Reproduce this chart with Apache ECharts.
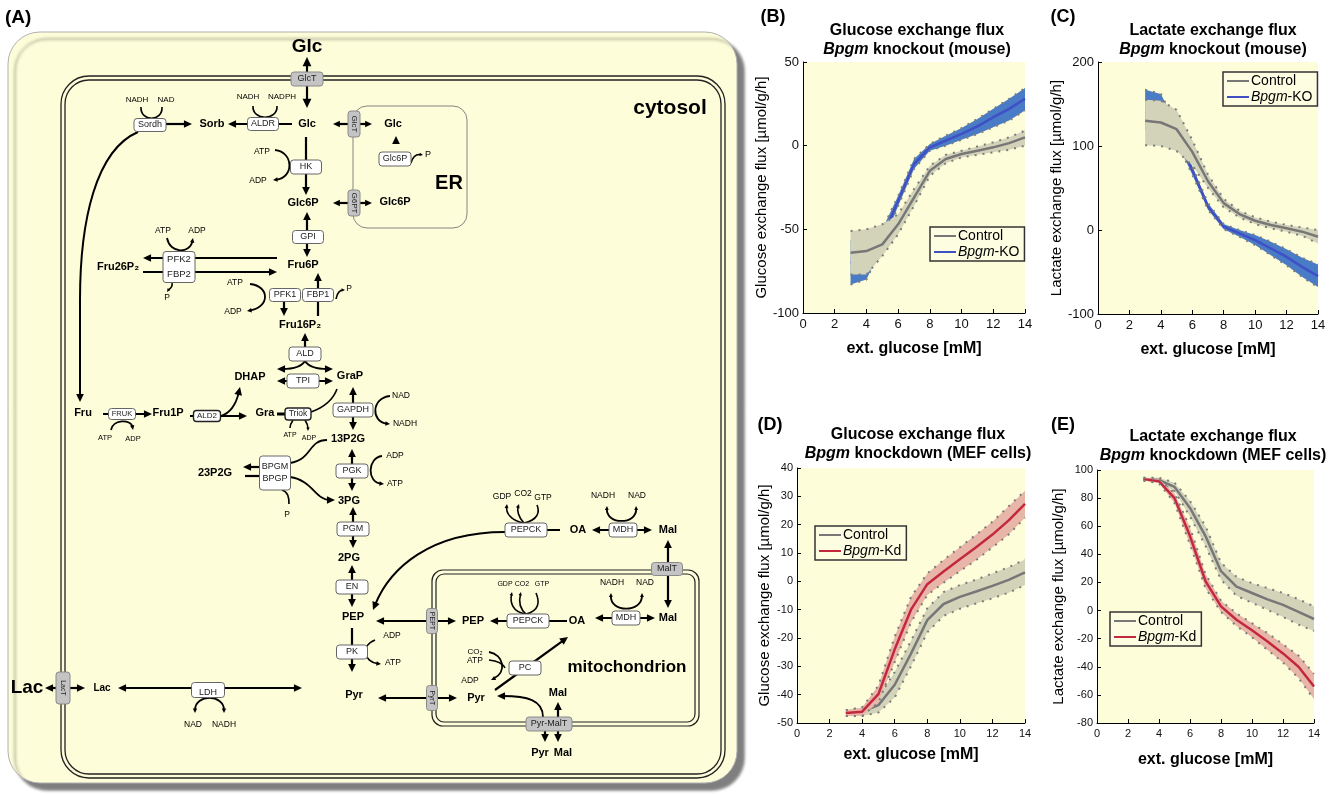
<!DOCTYPE html>
<html><head><meta charset="utf-8">
<script src="https://cdn.jsdelivr.net/npm/echarts/dist/echarts.min.js"></script>
<style>html,body{margin:0;padding:0;background:#fff}#c{width:1340px;height:794px}</style>
</head><body><div id="c"></div>
<script>
// ---------------- data ----------------
const glucoseMM = [3,4,5,6,7,8,9,10,11,12,13,14];
const xTicks = [0,2,4,6,8,10,12,14];
// (B) Glucose exchange flux, Bpgm knockout (mouse)
const glcKO_ctrl_mean = [-64,-63,-59,-47,-31,-15,-8,-5,-3,-1,1.5,5];
const glcKO_ctrl_lo   = [-77,-77,-66,-53,-36,-18,-10.5,-7,-5.5,-4,-2.5,0];
const glcKO_ctrl_hi   = [-51,-50,-47,-41,-26,-12,-5.5,-3,-0.5,2,5,9];
const glcKO_ko_mean   = [-70,-68,-55,-33,-11,-1,3,7,11.5,17,22,28];
const glcKO_ko_lo     = [-83,-80,-60,-36,-14,-3,0,3.5,7,11,15,21];
const glcKO_ko_hi     = [-57,-56,-50,-30,-8,1,6,10.5,16,22,28,34.5];
// (C) Lactate exchange flux, Bpgm knockout (mouse)
const lacKO_ctrl_mean = [130,128,120,93,58,32,19,11,6,2,-2,-8];
const lacKO_ctrl_lo   = [101,100,94,77,50,27,15,7,2,-2,-7,-16];
const lacKO_ctrl_hi   = [155,154,143,107,66,37,23,15,10,6,3,0];
const lacKO_ko_mean   = [140,138,115,71,28,4,-4,-12,-22,-32,-44,-55];
const lacKO_ko_lo     = [120,118,105,66,24,1,-8,-18,-30,-42,-56,-68];
const lacKO_ko_hi     = [167,162,125,76,32,7,0,-6,-14,-23,-33,-41];
// (D) Glucose exchange flux, Bpgm knockdown (MEF cells)
const glcKd_ctrl_mean = [-46.5,-46,-43.7,-36.5,-25.5,-13.7,-8,-5.5,-3.6,-1.6,0.5,3.2];
const glcKd_ctrl_lo   = [-47.5,-47.5,-46.3,-41,-30,-18,-12.2,-9.7,-7.8,-6,-4,-1.3];
const glcKd_ctrl_hi   = [-45.5,-44.5,-41,-32,-21,-9.5,-3.8,-1.3,0.6,2.8,5,7.7];
const glcKd_kd_mean   = [-46.5,-46,-39.8,-24,-10,-1,3.5,7.8,12,16.5,21.5,27.3];
const glcKd_kd_lo     = [-47.5,-47.5,-42.8,-28.5,-14.5,-4.8,-0.5,3.6,7.5,12,16.5,22.5];
const glcKd_kd_hi     = [-45.5,-44.5,-36.8,-19.5,-5.5,2.8,7.5,12,16.5,21,26.5,32];
// (E) Lactate exchange flux, Bpgm knockdown (MEF cells)
const lacKd_ctrl_mean = [93.5,92.8,88,73,53,28,17,12.5,8,4,-1,-6];
const lacKd_ctrl_lo   = [92.5,91,85,67,46,22,10.5,5.5,0.5,-4.5,-10,-14.5];
const lacKd_ctrl_hi   = [94.5,94.5,91,78,60,34,24,19.5,16,12.5,8,3];
const lacKd_kd_mean   = [93.5,92,80,53,21,3,-6.5,-14,-22,-30.5,-40,-54];
const lacKd_kd_lo     = [92.5,90.5,76.5,47,16,-1,-11,-19,-28,-37,-48,-63];
const lacKd_kd_hi     = [94.5,93.5,83.5,59,26,7,-2,-9,-16,-24,-32,-45];

// ---------------- styles ----------------
const FF = '"Liberation Sans", Arial, sans-serif';
const C_GRAY = '#777777', C_GRAYBAND = '#d3d3ba';
const C_BLUE = '#3f4fc6', C_BLUEBAND = '#4a7bc6';
const C_RED = '#c4283f', C_REDBAND = '#e7b6a8';
const BG = '#fdfdd9';

// ---------------- diagram (panel A) ----------------
const G = [];
function txt(x,y,s,o={}){
  G.push({type:'text', x, y, rotation:o.r||0, z:14, silent:true,
    style:{text:s, fill:o.c||'#000', fontSize:o.s||9, fontWeight:o.b?'bold':'normal', fontFamily:FF,
      align:o.a||'center', verticalAlign:'middle', textAlign:o.a||'center', textVerticalAlign:'middle', lineHeight:o.lh||undefined}});
}
function head(x,y,ang,sz){
  const l=sz*1.15, w=sz*0.55;
  const bx=x-Math.cos(ang)*l, by=y-Math.sin(ang)*l;
  const px=-Math.sin(ang)*w, py=Math.cos(ang)*w;
  G.push({type:'polygon', z:12, silent:true, shape:{points:[[x,y],[bx+px,by+py],[bx-px,by-py]]}, style:{fill:'#000'}});
}
function line(pts,o={}){
  const hs=o.hs||7; pts=pts.map(p=>[...p]);
  if(o.e){const a=pts[pts.length-2], b=pts[pts.length-1]; const ang=Math.atan2(b[1]-a[1],b[0]-a[0]); head(b[0],b[1],ang,hs); pts[pts.length-1]=[b[0]-Math.cos(ang)*hs*0.8,b[1]-Math.sin(ang)*hs*0.8];}
  if(o.s){const a=pts[1], b=pts[0]; const ang=Math.atan2(b[1]-a[1],b[0]-a[0]); head(b[0],b[1],ang,hs); pts[0]=[b[0]-Math.cos(ang)*hs*0.8,b[1]-Math.sin(ang)*hs*0.8];}
  G.push({type:'polyline', z:11, silent:true, shape:{points:pts}, style:{stroke:'#000', lineWidth:o.w||2.2, fill:null}});
}
function curve(p0,c1,c2,p1,o={}){
  const hs=o.hs||7; let a=[...p0], b=[...p1];
  if(o.e){const ang=Math.atan2(p1[1]-c2[1],p1[0]-c2[0]); head(p1[0],p1[1],ang,hs); b=[p1[0]-Math.cos(ang)*hs*0.8,p1[1]-Math.sin(ang)*hs*0.8];}
  if(o.s){const ang=Math.atan2(p0[1]-c1[1],p0[0]-c1[0]); head(p0[0],p0[1],ang,hs); a=[p0[0]-Math.cos(ang)*hs*0.8,p0[1]-Math.sin(ang)*hs*0.8];}
  G.push({type:'bezierCurve', z:11, silent:true, shape:{x1:a[0],y1:a[1],x2:b[0],y2:b[1],cpx1:c1[0],cpy1:c1[1],cpx2:c2[0],cpy2:c2[1]}, style:{stroke:'#000', lineWidth:o.w||1.8, fill:null}});
}
function box(x,y,w,h,label,o={}){
  G.push({type:'rect', z:13, silent:true, shape:{x:x-w/2,y:y-h/2,width:w,height:h,r:o.rr!=null?o.rr:3},
    style:{fill:o.gray?'#c4c4c4':'#fff', stroke:o.dark?'#222':(o.gray?'#8a8a8a':'#666'), lineWidth:o.dark?1.4:1}});
  if(label) txt(x,y+(o.dy||0),label,{s:o.fs||9, r:o.vert?-Math.PI/2:0, c:'#222', lh:o.lh});
}
function rrect(x,y,w,h,r,stroke,lw,fill,extra){
  G.push(Object.assign({type:'rect', z:extra&&extra.z||3, silent:true, shape:{x,y,width:w,height:h,r},
    style:Object.assign({fill:fill||null, stroke, lineWidth:lw}, extra&&extra.style||{})}));
}
function met(x,y,s,sz){txt(x,y,s,{b:1,s:sz||11});}

// outer panel
rrect(8,32,729,751,32,'#b0b0b0',1,BG,{z:1,style:{shadowBlur:3,shadowOffsetX:7,shadowOffsetY:7,shadowColor:'rgba(0,0,0,0.5)'}});
// cell membrane
rrect(61,76,664,702,28,'#222',1.3,null);
rrect(65,80,656,694,24,'#222',1.3,null);
// ER
rrect(353,106,114,122,14,'#777',0.9,null);
// mitochondrion
rrect(432,570,267,156,11,'#222',1.2,null);
rrect(436,574,259,148,8,'#222',1.2,null);

txt(5,18,'(A)',{b:1,s:19,a:'left'});
txt(670,108,'cytosol',{b:1,s:21});
txt(449,183,'ER',{b:1,s:20});
txt(627,667,'mitochondrion',{b:1,s:17});

// glucose uptake
met(307,47,'Glc',19);
line([[307,108],[307,57]],{s:1,e:1,hs:8});
box(307,79,32,14,'GlcT',{gray:1});
met(307,124,'Glc');
// ALDR
line([[292,124],[228,124]],{e:1});
box(263,124,31,13,'ALDR');
txt(248,97,'NADH',{s:8}); txt(282,97,'NADPH',{s:8});
curve([253,106],[252,121],[278,121],[277,106],{w:1.6});
met(212,124,'Sorb');
box(150,125,32,13,'Sordh');
line([[166,124],[192,124]],{e:1});
txt(137,100,'NADH',{s:8}); txt(166,100,'NAD',{s:8});
curve([141,107],[140,122],[163,122],[162,107],{w:1.6});
// Sorb -> Fru big curve
curve([138,132],[96,150],[80,220],[80,300],{w:2});
line([[80,300],[80,402]],{e:1,w:2});
// HK
line([[306,137],[306,195]],{e:1});
box(306,167,31,14,'HK');
txt(262,152,'ATP',{s:8.5}); txt(258,181,'ADP',{s:8.5});
curve([275,150],[294,152],[294,178],[273,180],{e:1,hs:4});
met(303,203,'Glc6P');
// ER transport
line([[333,124],[372,124]],{s:1,e:1,hs:6});
box(354,124,12,26,'GlcT',{gray:1,vert:1,fs:8});
met(393,124,'Glc');
head(396,136,-Math.PI/2,7);
box(395,159,32,14,'Glc6P',{fs:9});
txt(428,155,'P',{s:9});
curve([411,163],[413,156],[417,154],[423,155],{e:1,hs:3,w:1.6});
line([[333,203],[372,203]],{s:1,e:1,hs:6});
box(354,203,12,26,'G6PT',{gray:1,vert:1,fs:8});
met(395,202,'Glc6P');
// GPI
line([[307,212],[307,257]],{s:1,e:1});
box(308,237,31,13,'GPI');
met(303,265,'Fru6P');
// PFK2/FBP2
line([[277,258],[143,258]],{e:1});
line([[143,272],[277,272]],{e:1});
box(179,267,32,31,'PFK2\nFBP2',{lh:15,fs:9.5});
met(118,267,'Fru26P₂');
txt(163,231,'ATP',{s:8.5}); txt(197,231,'ADP',{s:8.5});
curve([167,238],[170,254],[190,254],[193,238],{e:1,hs:4});
txt(167,298,'P',{s:8.5});
curve([172,283],[173,288],[169,289],[167,292],{e:1,hs:3,w:1.6});
// PFK1 / FBP1
line([[284,300],[284,316]],{e:1});
line([[318,316],[318,273]],{e:1});
box(285,295,31,13,'PFK1');
box(318,295,31,13,'FBP1');
txt(235,283,'ATP',{s:8.5}); txt(233,312,'ADP',{s:8.5});
curve([250,284],[270,286],[270,307],[247,311],{e:1,hs:4});
txt(349,289,'P',{s:8.5});
curve([336,299],[337,292],[341,290],[345,290],{e:1,hs:3,w:1.6});
met(300,325,'Fru16P₂');
// ALD / TPI
line([[305,348],[305,333]],{e:1});
box(305,354,32,14,'ALD');
curve([305,361],[300,369],[288,369],[277,369],{e:1});
curve([305,361],[310,369],[322,369],[333,369],{e:1});
line([[277,381],[333,381]],{s:1,e:1});
box(303,381,32,14,'TPI');
met(250,377,'DHAP'); met(350,376,'GraP');
// fructose branch
met(83,413,'Fru');
line([[103,414],[152,414]],{e:1});
box(122,414,27,11,'FRUK',{fs:7.5});
txt(105,438,'ATP',{s:7.5}); txt(133,439,'ADP',{s:7.5});
curve([111,430],[113,419],[131,419],[133,430],{e:1,hs:4});
met(168,413,'Fru1P');
line([[190,416],[247,416]],{e:1});
box(207,416,27,11,'ALD2',{fs:8,dark:1});
curve([221,416],[233,412],[237,400],[240,387],{e:1});
met(265,413,'Gra');
line([[277,414],[286,414]],{w:3});
box(298,414,26,12,'Triok',{dark:1,fs:8.5});
curve([311,412],[325,407],[333,400],[337,389],{w:1.6});
txt(290,435,'ATP',{s:7}); txt(309,438,'ADP',{s:7});
curve([293,420],[291,423],[290,425],[290,428],{w:1.6});
curve([305,420],[307,423],[308,426],[308,431],{e:1,hs:3,w:1.6});
// GAPDH
line([[353,387],[353,430]],{s:1,e:1});
box(353,410,40,14,'GAPDH');
txt(401,396,'NAD',{s:8.5}); txt(405,424,'NADH',{s:8.5});
curve([390,396],[371,398],[371,422],[390,424],{e:1,hs:4});
met(348,439,'13P2G');
// BPGM / BPGP
line([[259,467],[243,467]],{e:1});
line([[245,476],[259,476]],{w:2.2});
box(275,473,31,34,'BPGM\nBPGP',{lh:12,fs:9});
met(215,473,'23P2G');
curve([290,463],[312,460],[308,440],[327,440],{w:1.8});
curve([290,477],[312,480],[316,500],[335,500],{e:1});
txt(287,515,'P',{s:8.5});
curve([282,490],[288,492],[289,497],[289,504],{w:1.6});
// PGK
line([[352,449],[352,491]],{s:1,e:1});
box(352,471,32,14,'PGK');
txt(395,456,'ADP',{s:8.5}); txt(395,484,'ATP',{s:8.5});
curve([382,456],[367,458],[367,482],[384,484],{e:1,hs:4});
met(349,501,'3PG');
// PGM
line([[353,507],[353,548]],{s:1,e:1});
box(353,529,32,14,'PGM');
met(349,558,'2PG');
// EN
line([[352,565],[352,607]],{s:1,e:1});
box(352,587,32,14,'EN');
met(353,617,'PEP');
// PK
line([[352,628],[352,672]],{e:1});
box(352,652,31,14,'PK');
txt(392,636,'ADP',{s:8.5}); txt(393,663,'ATP',{s:8.5});
curve([375,640],[360,646],[364,662],[381,664],{e:1,hs:4});
met(354,695,'Pyr');
// transport PEP / Pyr
line([[376,621],[456,621]],{s:1,e:1});
box(432,621,11,25,'PEPT',{gray:1,vert:1,fs:7});
line([[378,698],[457,698]],{s:1,e:1});
box(432,698,11,25,'PyrT',{gray:1,vert:1,fs:7});
// mitochondrial PEPCK
met(473,621,'PEP');
line([[567,621],[490,621]],{e:1});
box(528,621,42,14,'PEPCK');
met(577,621,'OA');
txt(505,584,'GDP',{s:7}); txt(522,584,'CO2',{s:7}); txt(542,584,'GTP',{s:7});
curve([526,614],[512,612],[510,602],[512,592],{e:1,hs:3,w:1.6});
curve([526,614],[519,608],[519,600],[521,592],{e:1,hs:3,w:1.6});
curve([526,614],[539,611],[540,602],[536,593],{w:1.6});
// mitochondrial MDH
line([[595,618],[655,618]],{s:1,e:1});
box(626,618,28,14,'MDH');
txt(612,583,'NADH',{s:8.5}); txt(645,583,'NAD',{s:8.5});
curve([611,593],[610,613],[642,613],[642,593],{s:1,e:1,hs:3.5});
met(668,618,'Mal');
// MalT
line([[668,540],[668,608]],{s:1,e:1});
box(667,569,31,13,'MalT',{gray:1});
// cytosolic PEPCK / MDH
line([[505,530],[560,530]]);
box(526,530,42,14,'PEPCK');
met(578,530,'OA');
txt(502,497,'GDP',{s:8.5}); txt(523,494,'CO2',{s:8.5}); txt(543,498,'GTP',{s:8.5});
curve([524,523],[510,521],[506,512],[507,504],{e:1,hs:3.5,w:1.6});
curve([524,523],[518,517],[517,510],[519,504],{e:1,hs:3.5,w:1.6});
curve([524,523],[538,520],[540,512],[537,505],{w:1.6});
line([[592,530],[652,530]],{s:1,e:1});
box(623,530,28,14,'MDH');
txt(603,496,'NADH',{s:8.5}); txt(637,496,'NAD',{s:8.5});
curve([607,506],[606,525],[637,525],[636,506],{s:1,e:1,hs:3.5});
met(668,530,'Mal');
curve([505,532],[430,532],[390,568],[373,610],{e:1,w:2});
// PC
line([[495,690],[568,637]],{e:1});
box(525,668,32,14,'PC');
txt(475,652,'CO₂',{s:8}); txt(475,661,'ATP',{s:8.5}); txt(470,681,'ADP',{s:8.5});
curve([489,652],[504,655],[507,672],[491,680],{e:1,hs:4});
curve([489,660],[498,661],[503,664],[505,668],{w:1.6});
met(476,698,'Pyr');
// Pyr-MalT
box(549,724,46,14,'Pyr-MalT',{gray:1});
met(558,693,'Mal');
line([[558,717],[558,702]],{e:1});
curve([543,717],[543,700],[527,696],[497,696],{e:1});
line([[545,731],[545,742]],{e:1});
line([[558,731],[558,742]],{e:1});
met(540,753,'Pyr'); met(563,753,'Mal');
// lactate
met(27,688,'Lac',19);
line([[45,688],[85,688]],{s:1,e:1});
box(63,688,14,32,'LacT',{gray:1,vert:1,fs:7});
met(102,688,'Lac',10);
line([[118,688],[302,688]],{s:1,e:1});
box(208,690,33,15,'');
txt(208,693,'LDH',{s:9,c:'#222'});
curve([195,713],[195,694],[224,694],[224,713],{s:1,e:1,hs:4});
txt(193,725,'NAD',{s:8.5}); txt(224,725,'NADH',{s:8.5});

// panel letters and titles
txt(773,17,'(B)',{b:1,s:18}); txt(1063,17,'(C)',{b:1,s:18});
txt(770,425,'(D)',{b:1,s:18}); txt(1063,425,'(E)',{b:1,s:18});
const RICH = {b:{fontWeight:'bold',fontSize:16,fill:'#000',fontFamily:FF,lineHeight:19},
              i:{fontWeight:'bold',fontStyle:'italic',fontSize:16,fill:'#000',fontFamily:FF,lineHeight:19}};
function title2(x,y,l1,l2){
  G.push({type:'text', x, y, z:14, silent:true, style:{text:'{b|'+l1+'}\n{i|Bpgm}{b| '+l2+'}', rich:RICH, align:'center', verticalAlign:'top', textAlign:'center', textVerticalAlign:'top'}});
}
title2(917,21,'Glucose exchange flux','knockout (mouse)');
title2(1213,21,'Lactate exchange flux','knockout (mouse)');
title2(918,425,'Glucose exchange flux','knockdown (MEF cells)');
title2(1213,427,'Lactate exchange flux','knockdown (MEF cells)');

// ---------------- charts ----------------
const grids = [
  {left:803, top:62, width:222, height:251},
  {left:1098, top:62, width:220, height:252},
  {left:797, top:468, width:228, height:255},
  {left:1097, top:470, width:217, height:253}
].map(g=>Object.assign(g,{show:true, backgroundColor:BG, borderWidth:0}));

const yDefs = [
  {min:-100,max:50,interval:50,name:'Glucose exchange flux [µmol/g/h]',gap:31,fs:13},
  {min:-100,max:200,interval:100,name:'Lactate exchange flux [µmol/g/h]',gap:32,fs:13},
  {min:-50,max:40,interval:10,name:'Glucose exchange flux [µmol/g/h]',gap:25,fs:11},
  {min:-80,max:100,interval:20,name:'Lactate exchange flux [µmol/g/h]',gap:31,fs:11}
];
const xGaps = [28,28,24,29];
const xAxes = grids.map((g,i)=>({gridIndex:i, type:'value', min:xTicks[0], max:xTicks[xTicks.length-1], interval:xTicks[1]-xTicks[0],
  axisLine:{onZero:false, lineStyle:{color:'#000',width:1}}, axisTick:{inside:true,length:4,lineStyle:{color:'#000'}},
  axisLabel:{color:'#111',fontSize:yDefs[i].fs,fontFamily:FF,margin:5}, splitLine:{show:false},
  name:'ext. glucose [mM]', nameLocation:'middle', nameGap:xGaps[i], nameTextStyle:{fontWeight:'bold',fontSize:16,color:'#000',fontFamily:FF}}));
const yAxes = yDefs.map((d,i)=>({gridIndex:i, type:'value', min:d.min, max:d.max, interval:d.interval,
  axisLine:{show:true,onZero:false,lineStyle:{color:'#000',width:1}}, axisTick:{show:true,inside:true,length:4,lineStyle:{color:'#000'}},
  axisLabel:{color:'#111',fontSize:d.fs,fontFamily:FF,margin:4}, splitLine:{show:false},
  name:d.name, nameLocation:'middle', nameGap:d.gap, nameTextStyle:{fontSize:15,color:'#000',fontFamily:FF}}));

let zc = 2;
function group(ax, name, mean, lo, hi, lineColor, bandColor){
  const n = glucoseMM.length;
  const band = {type:'custom', name:name+' band', xAxisIndex:ax, yAxisIndex:ax, silent:true, z:zc++,
    data: glucoseMM.map((x,i)=>[x, lo[i], hi[i]]), encode:{x:0, y:[1,2]},
    renderItem:(params, api)=>{
      if(params.dataIndex!==0) return {type:'group', children:[]};
      const pts=[];
      for(let i=0;i<n;i++) pts.push(api.coord([glucoseMM[i], hi[i]]));
      for(let i=n-1;i>=0;i--) pts.push(api.coord([glucoseMM[i], lo[i]]));
      return {type:'polygon', shape:{points:pts}, style:{fill:bandColor}};
    }};
  const dot = (arr,tag)=>({type:'line', name:name+tag, xAxisIndex:ax, yAxisIndex:ax, silent:true, z:zc++, symbol:'none',
    data: glucoseMM.map((x,i)=>[x,arr[i]]), lineStyle:{color:'#7c7c7c', width:2, type:[2,6]}, itemStyle:{color:'#7c7c7c'}});
  const mline = {type:'line', name, xAxisIndex:ax, yAxisIndex:ax, silent:true, z:zc++, symbol:'none',
    data: glucoseMM.map((x,i)=>[x,mean[i]]), lineStyle:{color:lineColor, width:2.5}, itemStyle:{color:lineColor}};
  return [band, dot(lo,' lo'), dot(hi,' hi'), mline];
}
const series = [
  ...group(0,'Bpgm-KO',glcKO_ko_mean,glcKO_ko_lo,glcKO_ko_hi,C_BLUE,C_BLUEBAND),
  ...group(0,'Control',glcKO_ctrl_mean,glcKO_ctrl_lo,glcKO_ctrl_hi,C_GRAY,C_GRAYBAND),
  ...group(1,'Bpgm-KO',lacKO_ko_mean,lacKO_ko_lo,lacKO_ko_hi,C_BLUE,C_BLUEBAND),
  ...group(1,'Control',lacKO_ctrl_mean,lacKO_ctrl_lo,lacKO_ctrl_hi,C_GRAY,C_GRAYBAND),
  ...group(2,'Control',glcKd_ctrl_mean,glcKd_ctrl_lo,glcKd_ctrl_hi,C_GRAY,C_GRAYBAND),
  ...group(2,'Bpgm-Kd',glcKd_kd_mean,glcKd_kd_lo,glcKd_kd_hi,C_RED,C_REDBAND),
  ...group(3,'Control',lacKd_ctrl_mean,lacKd_ctrl_lo,lacKd_ctrl_hi,C_GRAY,C_GRAYBAND),
  ...group(3,'Bpgm-Kd',lacKd_kd_mean,lacKd_kd_lo,lacKd_kd_hi,C_RED,C_REDBAND)
];

function legend(left, top, names){
  return {orient:'vertical', left, top, data:names, selectedMode:false, icon:'rect', itemWidth:22, itemHeight:2, itemGap:2,
    padding:[2,5,2,4], borderColor:'#333', borderWidth:1.5, backgroundColor:'#fdfde2',
    textStyle:{fontSize:14, color:'#000', fontFamily:FF, padding:[0,0,0,-3], rich:{i:{fontStyle:'italic',fontSize:14,fontFamily:FF,color:'#000'}}},
    formatter: n => n.indexOf('Bpgm')===0 ? '{i|Bpgm}'+n.slice(4) : n};
}

const chart = echarts.init(document.getElementById('c'), null, {renderer:'canvas'});
chart.setOption({
  animation:false,
  textStyle:{fontFamily:FF},
  grid: grids, xAxis: xAxes, yAxis: yAxes, series,
  legend:[
    legend(930,227,['Control','Bpgm-KO']),
    legend(1223,72,['Control','Bpgm-KO']),
    legend(815,526,['Control','Bpgm-Kd']),
    legend(1110,612,['Control','Bpgm-Kd'])
  ],
  graphic:{elements:G}
});
</script></body></html>
